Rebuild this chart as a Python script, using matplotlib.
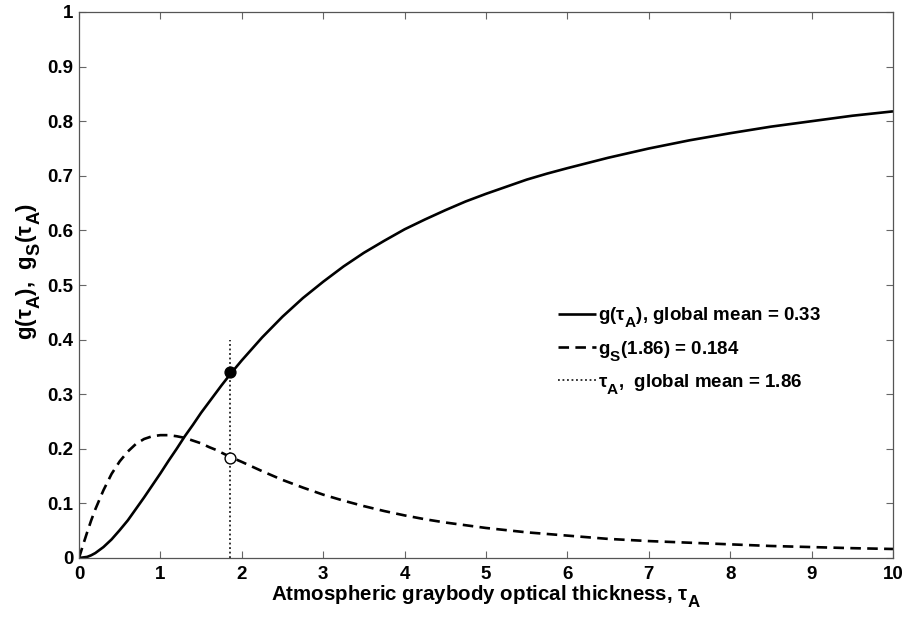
import matplotlib
matplotlib.use("Agg")
import matplotlib.pyplot as plt
import matplotlib._mathtext as _mt

# Values
tau = [0.0, 0.05, 0.1, 0.15, 0.2, 0.3, 0.4, 0.5, 0.6, 0.7, 0.8, 0.9, 1.0, 1.1, 1.2,
       1.3, 1.4, 1.5, 1.6, 1.7, 1.75, 1.86, 2.0, 2.25, 2.5, 2.75, 3.0, 3.25, 3.5,
       3.75, 4.0, 4.25, 4.5, 4.75, 5.0, 5.25, 5.5, 5.75, 6.0, 6.5, 7.0, 7.5, 8.0,
       8.5, 9.0, 9.5, 10.0]
g_vals = [0.000, 0.001, 0.002, 0.005, 0.009, 0.020, 0.034, 0.051, 0.069, 0.090,
          0.111, 0.133, 0.155, 0.178, 0.200, 0.223, 0.244, 0.266, 0.286, 0.306,
          0.316, 0.337, 0.362, 0.404, 0.442, 0.476, 0.506, 0.534, 0.559, 0.581,
          0.602, 0.620, 0.637, 0.653, 0.667, 0.680, 0.693, 0.704, 0.714, 0.733,
          0.750, 0.765, 0.778, 0.790, 0.800, 0.810, 0.818]
gs_vals = [0.000, 0.024, 0.047, 0.069, 0.089, 0.124, 0.154, 0.177, 0.195, 0.209,
           0.218, 0.223, 0.225, 0.225, 0.223, 0.220, 0.215, 0.210, 0.203, 0.197,
           0.193, 0.185, 0.176, 0.159, 0.143, 0.129, 0.116, 0.105, 0.095, 0.086,
           0.078, 0.071, 0.065, 0.060, 0.055, 0.051, 0.047, 0.044, 0.041, 0.035,
           0.031, 0.028, 0.025, 0.022, 0.020, 0.018, 0.0165]
tau_mean = 1.86
g_mean_pt = 0.34
gs_mean_pt = 0.184
vline_top = 0.4
xticks = [0, 1, 2, 3, 4, 5, 6, 7, 8, 9, 10]
yticks = [0, 0.1, 0.2, 0.3, 0.4, 0.5, 0.6, 0.7, 0.8, 0.9, 1]
ytick_labels = ["0", "0.1", "0.2", "0.3", "0.4", "0.5", "0.6", "0.7", "0.8", "0.9", "1"]
legend_labels = [r"g(τ$_\mathbf{A}$), global mean = 0.33",
                 r"g$_\mathbf{S}$(1.86) = 0.184",
                 r"τ$_\mathbf{A}$,  global mean = 1.86"]

# larger, lower subscripts (MATLAB-like)
try:
    _mt.SHRINK_FACTOR = 0.82
    _mt.FontConstantsBase.sub1 = 0.7
    _mt.FontConstantsBase.sub2 = 0.8
except Exception:
    pass

plt.rcParams["font.family"] = ["Liberation Sans", "DejaVu Sans"]
plt.rcParams["mathtext.fontset"] = "custom"
plt.rcParams["mathtext.rm"] = "Liberation Sans"
plt.rcParams["mathtext.bf"] = "Liberation Sans:bold"
plt.rcParams["mathtext.it"] = "Liberation Sans:italic"

fig = plt.figure(figsize=(9.09, 6.18), dpi=100)
ax = fig.add_axes([79/909, 60/618, (893-79)/909, (558-12)/618])

l1, = ax.plot(tau, g_vals, color="black", lw=1.9, solid_capstyle="butt",
              solid_joinstyle="round")
l2, = ax.plot(tau, gs_vals, color="black", lw=1.9, linestyle=(0, (4.0, 2.4)))
l3, = ax.plot([tau_mean, tau_mean], [0, vline_top], color="#222222", lw=1.3,
              linestyle=(0, (1, 1.5)))
ax.plot([tau_mean], [g_mean_pt], marker="o", ms=7.8, mfc="black", mec="black",
        linestyle="none", zorder=5)
ax.plot([tau_mean], [gs_mean_pt], marker="o", ms=7.8, mfc="white", mec="black",
        mew=1.0, linestyle="none", zorder=5)

ax.set_xlim(0, 10)
ax.set_ylim(0, 1)
ax.set_xticks(xticks)
ax.set_xticklabels([str(t) for t in xticks])
ax.set_yticks(yticks)
ax.set_yticklabels(ytick_labels)
for lab in ax.get_xticklabels() + ax.get_yticklabels():
    lab.set_fontweight("bold")
    lab.set_fontsize(13.5)
ax.tick_params(direction="in", length=5, width=0.8, color="#666666",
               top=True, right=True)
ax.tick_params(axis="x", pad=6)
ax.tick_params(axis="y", pad=4)
for s in ax.spines.values():
    s.set_color("#555555")
    s.set_linewidth(0.9)

ax.set_xlabel(r"Atmospheric graybody optical thickness, τ$_\mathbf{A}$",
              fontsize=14.8, fontweight="bold", labelpad=0)
ax.set_ylabel(r"g(τ$_\mathbf{A}$),  g$_\mathbf{S}$(τ$_\mathbf{A}$)",
              fontsize=16, fontweight="bold")
ax.yaxis.set_label_coords(-0.044, 0.524)

leg = ax.legend([l1, l2, l3], legend_labels, loc="center left",
                bbox_to_anchor=(479/814, 0.380), frameon=False,
                handlelength=2.0, handletextpad=0.15, labelspacing=0.5,
                prop={"weight": "bold", "size": 13.5}, borderaxespad=0,
                borderpad=0)

fig.savefig("out.png", dpi=100)
